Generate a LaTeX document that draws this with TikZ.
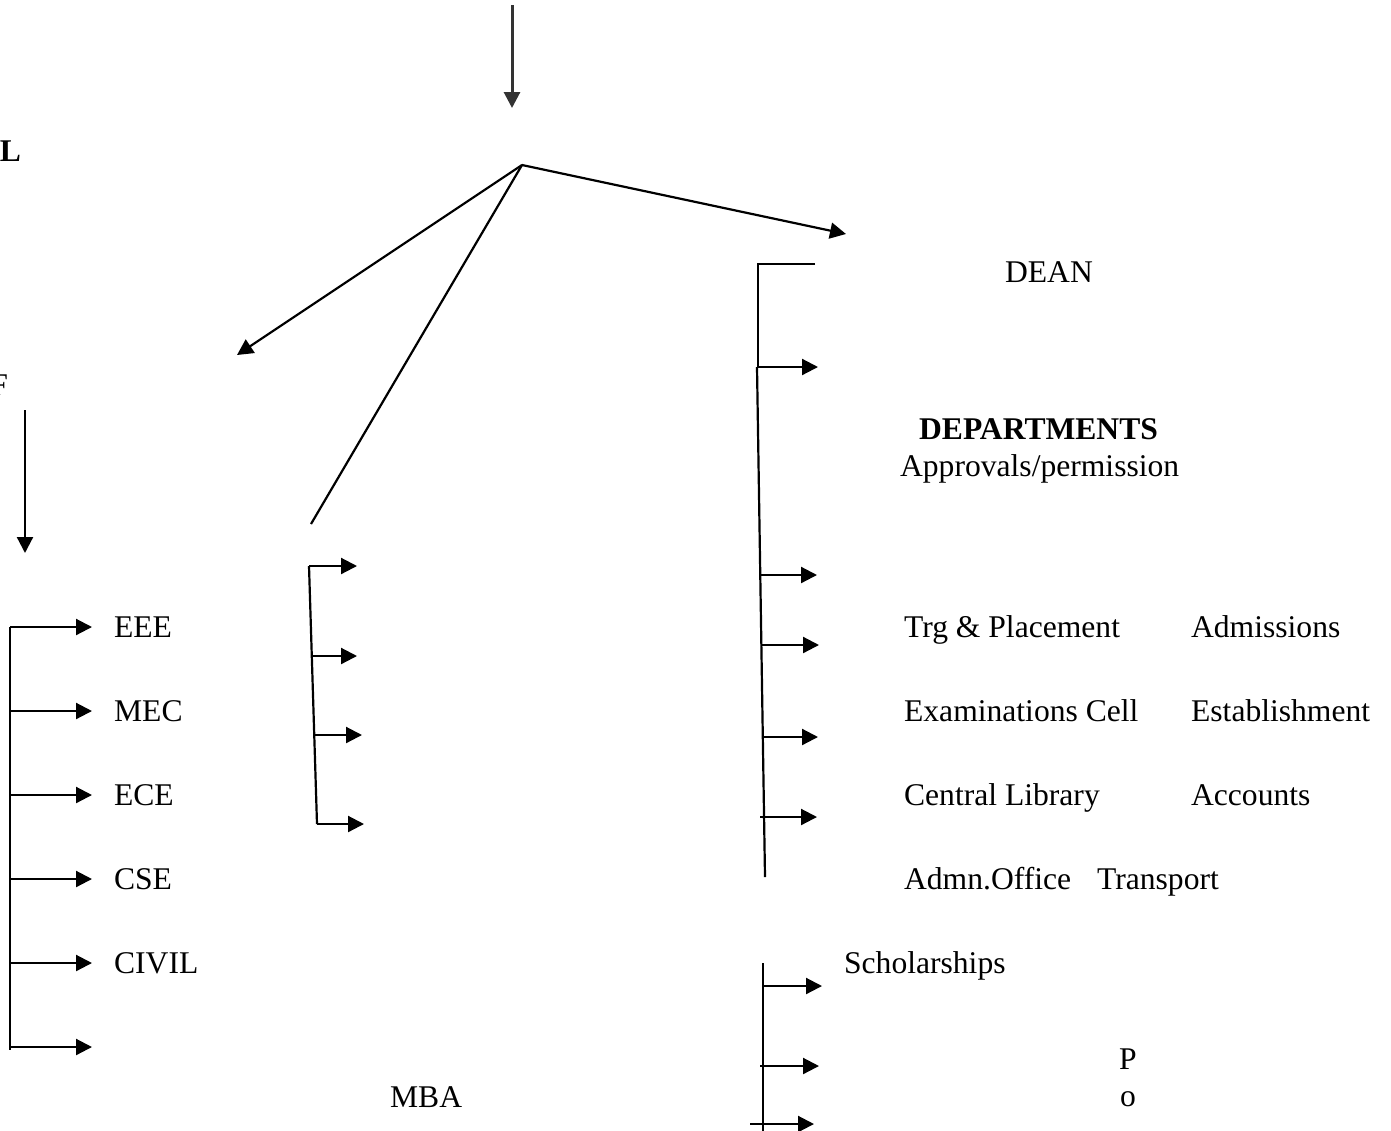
\documentclass[tikz,border=0pt]{standalone}
\usepackage{fontspec}
\setmainfont{Liberation Serif}
\usetikzlibrary{arrows.meta}
\usetikzlibrary{positioning}
\tikzset{
  lbl/.style={inner sep=0pt, anchor=base west, font=\fontsize{15.8}{19}\selectfont},
  lblb/.style={lbl, font=\fontsize{15.8}{19}\selectfont\bfseries},
}

\begin{document}
\begin{tikzpicture}[x=0.5pt, y=-0.5pt, line width=1.1pt, >={Triangle[length=8pt,width=8pt]}]
    \useasboundingbox (0,0) rectangle (1391,1130);
    % top of the chart
    \coordinate (topin) at (512,5);
    \coordinate (topout) at (512,108);
    \coordinate (hub) at (522,165);
    \draw[->, line width=1.5pt, black!80] (topin) -- (topout);
    \draw[->] (hub) -- (237,355);
    \draw (hub) -- (311,524);
    \draw[->] (hub) -- (846,234);
    \node[lblb, anchor=base east] (l) at (22,161) {L};
    \node[lbl, anchor=base east] (f) at (9,395) {F};
    % branches
    \draw[->] (25,410) -- (25,553);
    \draw (10,627) -- (10,1050);
    \draw[->] (10,627) -- (92,627);
    \draw[->] (10,711) -- (92,711);
    \draw[->] (10,795) -- (92,795);
    \draw[->] (10,879) -- (92,879);
    \draw[->] (10,963) -- (92,963);
    \draw[->] (10,1047) -- (92,1047);
    \node[lbl] (eee) at (113,637) {EEE};
    \node[lbl] (mec) at (113,721) {MEC};
    \node[lbl] (ece) at (113,805) {ECE};
    \node[lbl] (cse) at (113,889) {CSE};
    \node[lbl] (civil) at (113,973) {CIVIL};
    % middle
    \draw (309,566) -- (317,824);
    \draw[->] (309,566) -- (357,566);
    \draw[->] (312,656) -- (357,656);
    \draw[->] (314,735) -- (362,735);
    \draw[->] (317,824) -- (364,824);
    \node[lbl] (mba) at (389,1107) {MBA};
    % dean side
    \draw (815,264) -- (758,264) -- (758,367);
    \draw (757,367) -- (765,877);
    \draw[->] (758,367) -- (818,367);
    \draw[->] (759,575) -- (817,575);
    \draw[->] (762,645) -- (819,645);
    \draw[->] (763,737) -- (818,737);
    \draw[->] (760,817) -- (817,817);
    \draw (763,963) -- (763,1135);
    \draw[->] (763,986) -- (822,986);
    \draw[->] (760,1066) -- (819,1066);
    \draw[->] (750,1124) -- (814,1124);
    \node[lbl] (dean) at (1004,282) {DEAN};
    \node[lblb] (depts) at (918,439) {DEPARTMENTS};
    \node[lbl] (appr) at (899,476) {Approvals/permission};
    \node[lbl] (trg) at (903,637) {Trg \& Placement};
    \node[lbl] (adms) at (1190,637) {Admissions};
    \node[lbl] (exam) at (903,721) {Examinations Cell};
    \node[lbl] (estb) at (1190,721) {Establishment};
    \node[lbl] (lib) at (903,805) {Central Library};
    \node[lbl] (acct) at (1190,805) {Accounts};
    \node[lbl] (admn) at (903,889) {Admn.Office};
    \node[lbl] (trans) at (1096,889) {Transport};
    \node[lbl] (schol) at (843,973) {Scholarships};
    \node[lbl] (p) at (1118,1069) {P};
    \node[lbl] (o) at (1119,1106) {o};
\end{tikzpicture}
\end{document}
